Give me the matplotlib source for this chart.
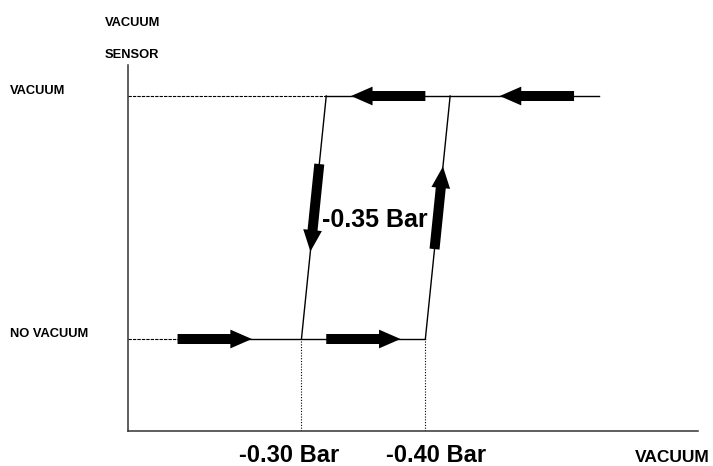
import matplotlib
matplotlib.use("Agg")
import matplotlib.pyplot as plt
from matplotlib.patches import FancyArrowPatch

plt.rcParams['font.family'] = ['Liberation Sans', 'DejaVu Sans']

# switching thresholds (bar of vacuum) and the two sensor states
thresholds = [0.30, 0.40]
threshold_labels = ['-0.30 Bar', '-0.40 Bar']
mid_label = '-0.35 Bar'
slant = 0.02          # the switching edges lean a bit to the right
states = [0, 1]       # 0 = no vacuum, 1 = vacuum
state_labels = ['NO VACUUM', 'VACUUM']
x_start, x_end = 0.16, 0.54
dash_end_bottom = 0.20

# direction arrows: (x0, y0, x1, y1)
arrows_bottom = [(0.20, 0, 0.26, 0), (0.32, 0, 0.38, 0)]
arrows_top = [(0.40, 1, 0.34, 1), (0.52, 1, 0.46, 1)]
arrow_down_y = [0.72, 0.36]
arrow_up_y = [0.37, 0.71]

fig = plt.figure(figsize=(7.13, 4.66), dpi=100)
ax = fig.add_axes([0.1795, 0.0751, 0.7994, 0.7854])
ax.set_xlim(0.16, 0.62)
ax.set_ylim(-0.3786, 1.1276)
ax.set_xticks([])
ax.set_yticks([])
for s in ['top', 'right']:
    ax.spines[s].set_visible(False)
for s in ['left', 'bottom']:
    ax.spines[s].set_linewidth(1.1)
    ax.spines[s].set_color('#333333')

lo, hi = thresholds
lw = 1.0
# bottom level
ax.plot([x_start, dash_end_bottom], [0, 0], color='k', lw=0.8, ls=(0, (3, 1)))
ax.plot([dash_end_bottom, hi], [0, 0], color='k', lw=lw)
# top level
ax.plot([x_start, lo + slant], [1, 1], color='k', lw=0.8, ls=(0, (3, 1)))
ax.plot([lo + slant, x_end], [1, 1], color='k', lw=lw)
# switching edges
ax.plot([lo, lo + slant], [0, 1], color='k', lw=lw)
ax.plot([hi, hi + slant], [0, 1], color='k', lw=lw)
# dotted drops to the axis
for t in thresholds:
    ax.plot([t, t], [ax.get_ylim()[0], 0], color='k', lw=0.8, ls=(0, (1, 1.5)))

style = "simple,head_length=15.5,head_width=13.5,tail_width=7.2"
segs = list(arrows_bottom) + list(arrows_top)
segs.append((lo + slant * arrow_down_y[0], arrow_down_y[0],
             lo + slant * arrow_down_y[1], arrow_down_y[1]))
segs.append((hi + slant * arrow_up_y[0], arrow_up_y[0],
             hi + slant * arrow_up_y[1], arrow_up_y[1]))
for x0, y0, x1, y1 in segs:
    ax.add_patch(FancyArrowPatch((x0, y0), (x1, y1), arrowstyle=style,
                                 color='k', lw=0, shrinkA=0, shrinkB=0,
                                 zorder=3))

W, H = 713.0, 466.0
small = dict(fontsize=9.3, fontweight='bold', va='center', ha='left')
fig.text(105 / W, 1 - 23 / H, 'VACUUM', **small)
fig.text(105 / W, 1 - 55 / H, 'SENSOR', **small)
fig.text(10 / W, 1 - 91 / H, state_labels[1], **small)
fig.text(10 / W, 1 - 334 / H, state_labels[0], **small)

big = dict(fontsize=17, fontweight='bold', va='center', ha='center')
fig.text(289 / W, 1 - 455 / H, threshold_labels[0], **big)
fig.text(436 / W, 1 - 455 / H, threshold_labels[1], **big)
fig.text(322 / W, 1 - 220 / H, mid_label, fontsize=18, fontweight='bold',
         va='center', ha='left')
fig.text(672 / W, 1 - 457 / H, 'VACUUM', fontsize=12.5, fontweight='bold',
         va='center', ha='center')

fig.savefig('out.png', dpi=100)
